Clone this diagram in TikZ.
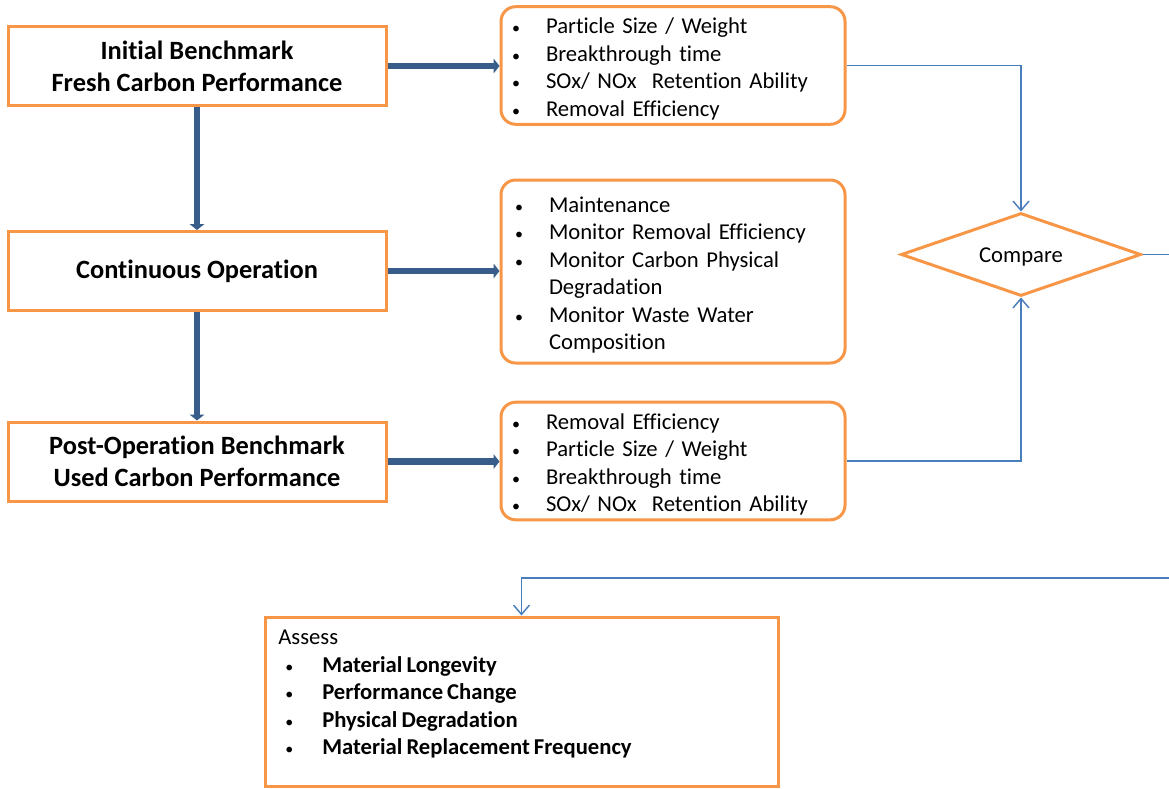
\documentclass[tikz,border=0pt]{standalone}
\usepackage{fontspec}
\setmainfont{Carlito}[Ligatures=NoCommon]
\newfontfamily\lstfont{Carlito}[Ligatures=NoCommon,WordSpace=0.8]
\usetikzlibrary{arrows.meta}
\usetikzlibrary{shapes}
\usetikzlibrary{positioning}
\definecolor{borange}{HTML}{F79646}
\definecolor{dblue}{HTML}{385D8A}
\definecolor{lblue}{HTML}{4A7EBB}
\tikzset{%
	stage/.style={rectangle,draw=borange,line width=2.25pt,minimum width=283.5pt,minimum height=59.25pt,align=center,font=\fontsize{19.8}{24}\selectfont\bfseries},
	lst/.style={rectangle,rounded corners=11pt,draw=borange,line width=2.25pt,minimum width=258pt,inner xsep=8.25pt,text width=241.5pt,align=left,font=\lstfont\fontsize{17}{20.6}\selectfont},
	thk/.style={arrows={-Triangle[length=4.5pt,width=11pt]},line width=5pt,color=dblue},
	thn/.style={arrows={-Straight Barb[length=7pt,width=12pt]},line width=1.1pt,color=lblue},
}
\newcommand{\bdot}{{\fontsize{12}{12}\selectfont\textbullet}}
\newcommand{\itm}[1]{\makebox[25.5pt][l]{\bdot}#1}
\newcommand{\itb}[1]{\hspace*{5.25pt}\makebox[27.75pt][l]{\bdot}\textbf{#1}}

\begin{document}
\begin{tikzpicture}[x=0.75pt,y=-0.75pt]
	\useasboundingbox (0,0) rectangle (1169,788);
	\clip (0,0) rectangle (1169,788);
	% left column
	\node (b1) at (197,66) [stage] {Initial Benchmark\\Fresh Carbon Performance};
	\node (b2) at (197,271) [stage] {Continuous Operation};
	\node (b3) at (197,461.5) [stage] {Post-Operation Benchmark\\Used Carbon Performance};
	
	% lists
	\node (r1) at (673,65.5) [lst,minimum height=86.25pt] {\itm{\rule{0pt}{17pt}Particle Size / Weight}\\\itm{Breakthrough time}\\\itm{SOx/ NOx\ \ Retention Ability}\\\itm{Removal Efficiency}};
	\node (r2) at (673,271.5) [lst,minimum height=137.25pt,inner xsep=10.5pt,text width=237pt] {\itm{\rule{0pt}{17pt}Maintenance}\\\itm{Monitor Removal Efficiency}\\\itm{Monitor Carbon Physical}\\\hspace*{25.5pt}Degradation\\\itm{Monitor Waste Water}\\\hspace*{25.5pt}Composition};
	\node (r3) at (673,461) [lst,minimum height=85.5pt] {\itm{\rule{0pt}{17pt}Removal Efficiency}\\\itm{Particle Size / Weight}\\\itm{Breakthrough time}\\\itm{SOx/ NOx\ \ Retention Ability}};
	
	\node (cmp) at (1021,254.5) [diamond,draw=borange,line width=2.25pt,minimum width=180pt,minimum height=62.25pt,aspect=2.9,inner sep=0pt,font=\fontsize{17}{20}\selectfont] {\rule{0pt}{14pt}Compare};
	
	\node (as) at (521.5,701.5) [rectangle,draw=borange,line width=2.25pt,minimum width=384.75pt,minimum height=126.75pt] {};
	\node (astext) at (278,630) [anchor=north west,inner sep=0pt,align=left,font=\lstfont\fontsize{17}{20.6}\selectfont] {Assess\\\itb{Material Longevity}\\\itb{Performance Change}\\\itb{Physical Degradation}\\\itb{Material Replacement Frequency}};
	
	% thick arrows
	\draw[thk] (b1.south) -- (b2.north);
	\draw[thk] (b2.south) -- (b3.north);
	\draw[thk] (b1.east) -- (b1.east -| r1.west);
	\draw[thk] (b2.east) -- (b2.east -| r2.west);
	\draw[thk] (b3.east) -- (b3.east -| r3.west);
	
	% thin connectors
	\coordinate (c1) at (1190,578);
	\draw[thn] (r1.east) -| (cmp.north);
	\draw[thn] (r3.east) -| (cmp.south);
	\draw[thn] (cmp.east) -| (c1) -| (as.north);
\end{tikzpicture}
\end{document}
